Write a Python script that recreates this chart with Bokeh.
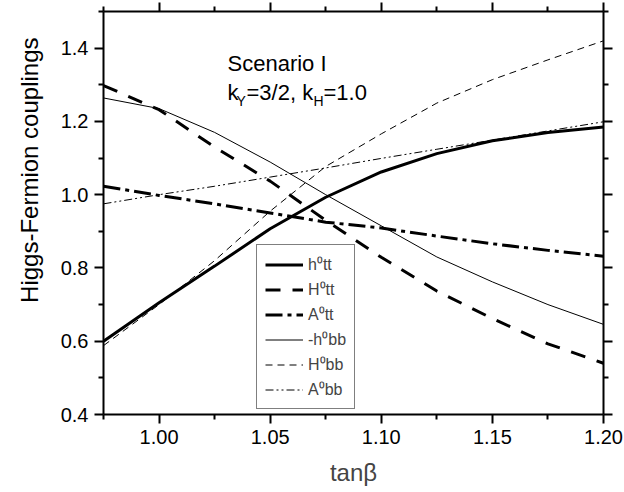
import math
from bokeh.plotting import figure
from bokeh.models import (Range1d, LinearAxis, FixedTicker, Label, Legend, LegendItem,
                          NumeralTickFormatter, Title)
from bokeh.embed import file_html
from bokeh.resources import INLINE

# ---- data ----
tan_beta = [0.975, 1.000, 1.025, 1.050, 1.075, 1.100, 1.125, 1.150, 1.175, 1.200]
h_tt  = [0.600, 0.705, 0.805, 0.907, 0.993, 1.062, 1.112, 1.147, 1.170, 1.185]
H_tt  = [1.298, 1.232, 1.130, 1.037, 0.930, 0.829, 0.737, 0.662, 0.593, 0.540]
A_tt  = [1.023, 0.998, 0.975, 0.950, 0.925, 0.909, 0.887, 0.866, 0.848, 0.832]
mh_bb = [1.264, 1.235, 1.170, 1.089, 1.000, 0.915, 0.830, 0.762, 0.700, 0.646]
H_bb  = [0.588, 0.700, 0.820, 0.955, 1.077, 1.166, 1.250, 1.314, 1.368, 1.420]
A_bb  = [0.975, 1.000, 1.023, 1.048, 1.073, 1.099, 1.124, 1.149, 1.174, 1.199]

labels = ["h\u2070tt", "H\u2070tt", "A\u2070tt", "-h\u2070bb", "H\u2070bb", "A\u2070bb"]
x_major = [1.00, 1.05, 1.10, 1.15, 1.20]
x_minor = [0.975, 1.025, 1.075, 1.125, 1.175]
y_major = [0.4, 0.6, 0.8, 1.0, 1.2, 1.4]
y_minor = [0.5, 0.7, 0.9, 1.1, 1.3, 1.5]

FONT = "Liberation Sans"

p = figure(width=624, height=492, output_backend="svg", toolbar_location=None,
           x_range=Range1d(0.975, 1.2), y_range=Range1d(0.4, 1.5),
           min_border_left=103, min_border_right=21, min_border_top=11,
           min_border_bottom=78, x_axis_location=None, y_axis_location=None)
p.outline_line_color = None
p.xgrid.visible = False
p.ygrid.visible = False
p.background_fill_color = "white"
p.border_fill_color = "white"

def style_axis(ax, ticks, minors, show_labels):
    ax.ticker = FixedTicker(ticks=ticks, minor_ticks=minors)
    ax.axis_line_width = 2
    ax.axis_line_color = "black"
    ax.major_tick_line_width = 2
    ax.minor_tick_line_width = 2
    ax.major_tick_out = 9
    ax.major_tick_in = 0
    ax.minor_tick_out = 5
    ax.minor_tick_in = 0
    ax.major_label_text_font = FONT
    if show_labels:
        ax.major_label_text_font_size = "20px"
        ax.major_label_text_color = "black"
    else:
        ax.major_label_text_font_size = "1px"
        ax.major_label_text_color = None

xb = LinearAxis()
style_axis(xb, x_major, x_minor, True)
xb.formatter = NumeralTickFormatter(format="0.00")
xb.major_label_standoff = 6
xb.axis_label = "tan\u03b2"
xb.axis_label_text_font = FONT
xb.axis_label_text_font_style = "normal"
xb.axis_label_text_font_size = "24px"
xb.axis_label_standoff = 12
p.add_layout(xb, "below")

xt = LinearAxis()
style_axis(xt, x_major, x_minor, False)
p.add_layout(xt, "above")

yl = LinearAxis()
style_axis(yl, y_major, y_minor, True)
yl.formatter = NumeralTickFormatter(format="0.0")
yl.major_label_standoff = 6
p.add_layout(yl, "left")

yr = LinearAxis()
style_axis(yr, y_major, y_minor, False)
p.add_layout(yr, "right")

# y-axis title as a side Title, aligned toward the top
ytitle = Title(text="Higgs-Fermion couplings", align="right", offset=26,
               vertical_align="middle",
               text_font=FONT, text_font_size="24px", text_font_style="normal",
               text_color="black", standoff=28)
p.add_layout(ytitle, "left")

# ---- curves ----
r1 = p.line(tan_beta, h_tt, line_color="black", line_width=3)
r2 = p.line(tan_beta, H_tt, line_color="black", line_width=3, line_dash="15 12")
r3 = p.line(tan_beta, A_tt, line_color="black", line_width=3, line_dash="17 5 4 5")
r4 = p.line(tan_beta, mh_bb, line_color="black", line_width=1)
r5 = p.line(tan_beta, H_bb, line_color="black", line_width=1, line_dash="7 5")
r6 = p.line(tan_beta, A_bb, line_color="black", line_width=1, line_dash="8 3 2 3 2 3")

legend = Legend(items=[LegendItem(label=l, renderers=[r]) for l, r in
                       zip(labels, [r1, r2, r3, r4, r5, r6])],
                location=(153, 5))
legend.label_text_font = FONT
legend.label_text_font_size = "16px"
legend.label_height = 21
legend.glyph_height = 21
legend.glyph_width = 38
legend.spacing = 3
legend.padding = 8
legend.margin = 0
legend.label_standoff = 5
legend.border_line_color = "black"
legend.border_line_width = 1
legend.background_fill_alpha = 1.0
p.add_layout(legend, "center")

# ---- annotation text (screen units relative to frame) ----
def lab(text, sx, sy, size, **kw):
    p.add_layout(Label(x=sx, y=sy, x_units="screen", y_units="screen", text=text,
                       text_font=FONT, text_font_size=size, text_color="black",
                       text_baseline="alphabetic", **kw))

lab("Scenario I", 124, 351, "22px")
lab("k", 124, 322, "22px")
lab("Y", 133, 314, "14px")
lab("=3/2, k", 143, 322, "22px")
lab("H", 210, 314, "14px")
lab("=1.0", 220, 322, "22px")

open("out.html", "w").write(file_html(p, INLINE))
